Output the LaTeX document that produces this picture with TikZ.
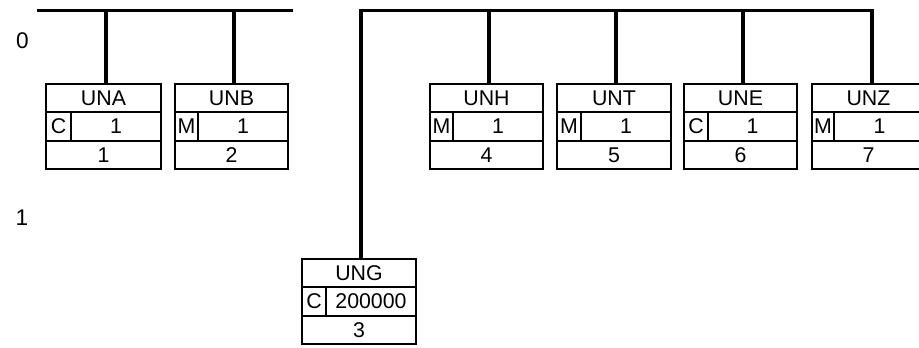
\documentclass[tikz,border=0pt]{standalone}
\usepackage{fontspec}
\setmainfont{Liberation Sans}
\newcommand\segbox[9]{%
  \pgfmathsetmacro\sbmid{(#2+#4)/2}%
  \pgfmathsetmacro\sbfm{(#2+#5)/2}%
  \pgfmathsetmacro\sbcm{(#5+#4)/2}%
  \node[cell, minimum width={(#4-#2)*0.75pt}] (#1-t) at (\sbmid,#3+14.17) {#6};
  \node[cell, minimum width={(#5-#2)*0.75pt}] (#1-f) at (\sbfm,#3+42.5) {#7};
  \node[cell, minimum width={(#4-#5)*0.75pt}] (#1-c) at (\sbcm,#3+42.5) {#8};
  \node[cell, minimum width={(#4-#2)*0.75pt}] (#1-n) at (\sbmid,#3+70.83) {#9};
}
\begin{document}
\begin{tikzpicture}[x=0.75pt,y=-0.75pt,
  cell/.style={draw, line width=1.6pt, rectangle, inner sep=0pt, outer sep=0pt,
    minimum height=21.25pt, font=\fontsize{16}{19}\selectfont},
  bar/.style={line width=2.9pt},
  conn/.style={line width=2.4pt, line join=miter},
  lvl/.style={font=\fontsize{17}{20}\selectfont, inner sep=0pt}]
\useasboundingbox (0,0) rectangle (919,347);

\node[lvl] (lv0) at (22.5,41) {0};
\node[lvl] (lv1) at (22,218) {1};

\segbox{una}{46}{84}{161}{71}{UNA}{C}{1}{1}
\segbox{unb}{175}{84}{288}{198}{UNB}{M}{1}{2}
\segbox{unh}{430}{84}{543}{453}{UNH}{M}{1}{4}
\segbox{unt}{557}{84}{671}{581}{UNT}{M}{1}{5}
\segbox{une}{684}{84}{797}{708}{UNE}{C}{1}{6}
\segbox{unz}{812}{84}{925}{834}{UNZ}{M}{1}{7}
\segbox{ung}{302}{259}{416}{326}{UNG}{C}{200000}{3}

% left bar
\coordinate (lb1) at (37,10.5);
\coordinate (lb2) at (293,10.5);
\draw[bar] (lb1) -- (lb2);
\coordinate (ja) at (106,10.5);
\coordinate (jb) at (234,10.5);
\draw[conn] (ja) -- (ja |- una-t.north);
\draw[conn] (jb) -- (jb |- unb-t.north);

% right bar
\coordinate (rb1) at (361,10.5);
\coordinate (rb2) at (872,10.5);
\draw[conn] (rb1 |- ung-t.north) -- (rb1) -- (rb2) -- (rb2 |- unz-t.north);
\draw[bar] (rb1) -- (rb2);
\coordinate (jh) at (489,10.5);
\coordinate (jt) at (616,10.5);
\coordinate (je) at (743,10.5);
\draw[conn] (jh) -- (jh |- unh-t.north);
\draw[conn] (jt) -- (jt |- unt-t.north);
\draw[conn] (je) -- (je |- une-t.north);
\end{tikzpicture}
\end{document}
